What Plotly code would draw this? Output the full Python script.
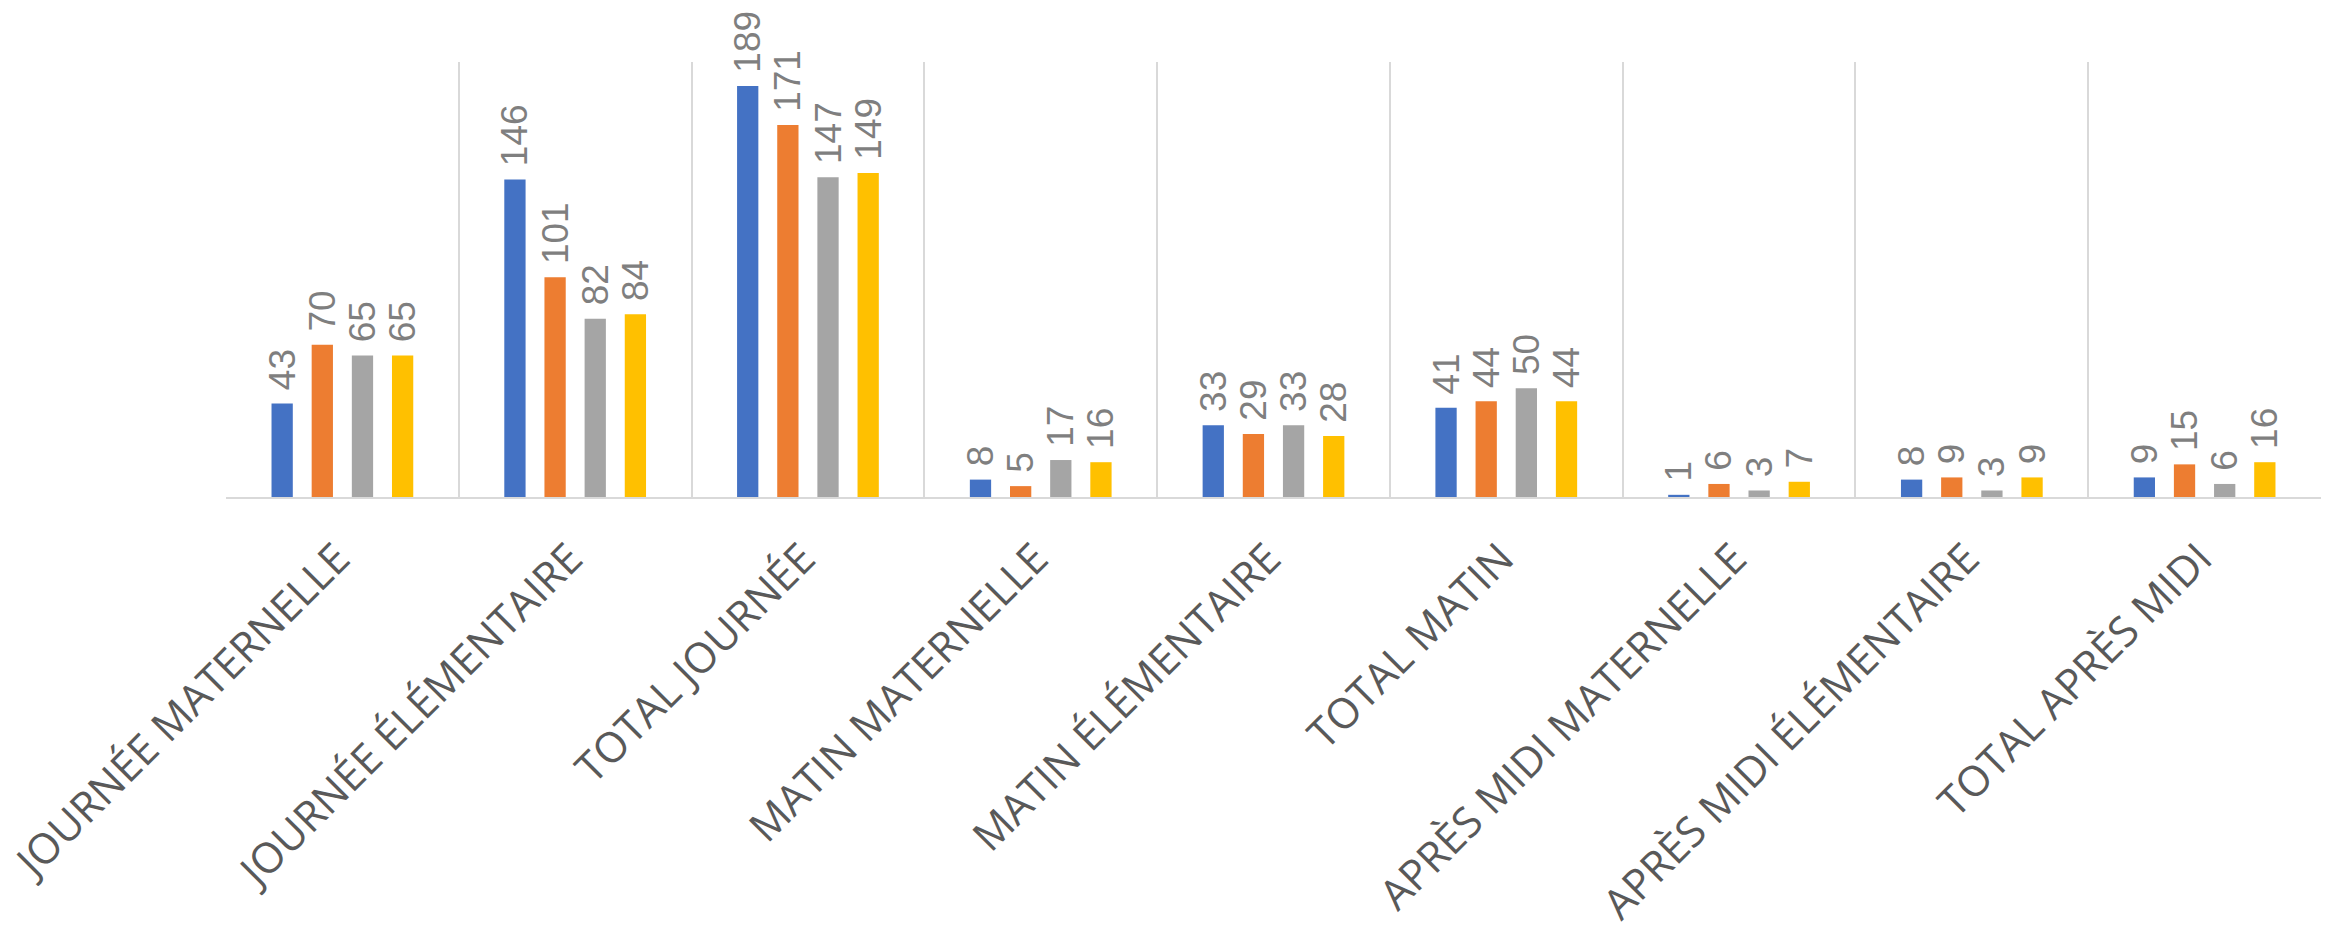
import plotly.graph_objects as go

categories = ["JOURNÉE MATERNELLE", "JOURNÉE ÉLÉMENTAIRE", "TOTAL JOURNÉE",
              "MATIN MATERNELLE", "MATIN ÉLÉMENTAIRE", "TOTAL MATIN",
              "APRÈS MIDI MATERNELLE", "APRÈS MIDI ÉLÉMENTAIRE", "TOTAL APRÈS MIDI"]

serie_1 = [43, 146, 189, 8, 33, 41, 1, 8, 9]
serie_2 = [70, 101, 171, 5, 29, 44, 6, 9, 15]
serie_3 = [65, 82, 147, 17, 33, 50, 3, 3, 6]
serie_4 = [65, 84, 149, 16, 28, 44, 7, 9, 16]

series = [("Série 1", serie_1, "#4472C4"),
          ("Série 2", serie_2, "#ED7D31"),
          ("Série 3", serie_3, "#A5A5A5"),
          ("Série 4", serie_4, "#FFC000")]

fig = go.Figure()

for name, values, color in series:
    fig.add_trace(go.Bar(
        x=categories,
        y=values,
        name=name,
        marker_color=color,
        marker_line_width=0,
        text=["\u00a0" + str(v) for v in values],
        textposition="outside",
        textangle=-90,
        constraintext="none",
        cliponaxis=False,
        textfont=dict(family="Liberation Sans", size=37, color="#7F7F7F"),
        showlegend=False))

fig.update_layout(
    barmode="group",
    bargap=0.31,
    bargroupgap=0.47,
    width=2333,
    height=926,
    margin=dict(l=226, r=12, t=62, b=429),
    paper_bgcolor="white",
    plot_bgcolor="white",
    xaxis=dict(
        tickson="boundaries",
        ticklen=0,
        showgrid=True,
        gridcolor="#D9D9D9",
        gridwidth=2,
        showline=True,
        linecolor="#D9D9D9",
        linewidth=2,
        tickangle=-45,
        ticklabelshift=-5,
        ticklabelstandoff=18,
        automargin=False,
        tickfont=dict(family="Open Sans", size=42, color="#595959"),
        range=[-0.5, 8.5]),
    yaxis=dict(
        range=[0, 200],
        showgrid=False,
        showticklabels=False,
        zeroline=False,
        showline=False))

# drop the default body margin so the figure sits at the page corner
fig.write_html("out.html",
               config={"displayModeBar": False},
               post_script="document.body.style.margin='0';")
